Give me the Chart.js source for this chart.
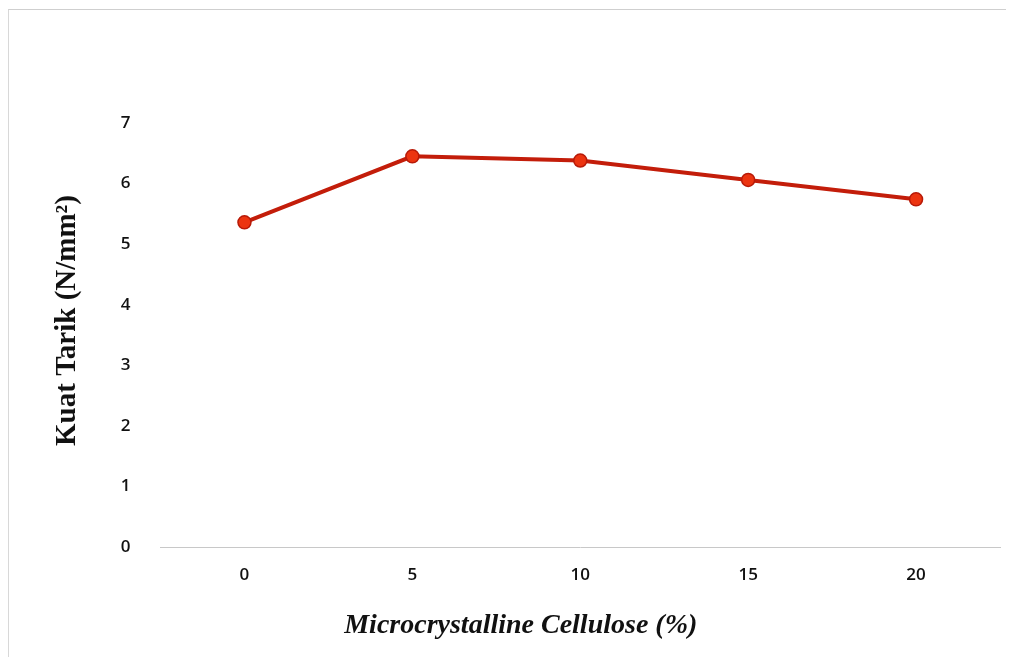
<!DOCTYPE html>
<html>
<head>
<meta charset="utf-8">
<script src="https://cdn.jsdelivr.net/npm/chart.js@4"></script>
<style>
  html, body { margin: 0; padding: 0; background: #fff; }
  #wrap { position: relative; width: 1010px; height: 657px; }
  #frame { position: absolute; left: 8px; top: 9px; right: 4px; bottom: -10px; border-left: 1px solid #d8d8d8; border-top: 1px solid #cfcfcf; }
</style>
</head>
<body>
<div id="wrap">
  <div id="frame"></div>
  <canvas id="chart" width="1010" height="657"></canvas>
</div>
<script>
// data
const mccPercent = ['0', '5', '10', '15', '20'];
const kuatTarik = [5.36, 6.45, 6.38, 6.06, 5.74];
const yTicks = [0, 1, 2, 3, 4, 5, 6, 7];

const ctx = document.getElementById('chart').getContext('2d');

new Chart(ctx, {
  type: 'line',
  data: {
    labels: mccPercent,
    datasets: [{
      label: 'Kuat Tarik',
      data: kuatTarik,
      borderColor: '#c31d0a',
      borderWidth: 4,
      pointRadius: 6.5,
      pointBackgroundColor: '#ec3410',
      pointBorderColor: '#b81a08',
      pointBorderWidth: 1.5,
      tension: 0
    }]
  },
  options: {
    responsive: false,
    animation: false,
    layout: {
      padding: { top: 123, right: 10, bottom: 10, left: 46 }
    },
    plugins: {
      legend: { display: false },
      tooltip: { enabled: false }
    },
    scales: {
      x: {
        offset: true,
        grid: { display: false },
        border: { display: true, color: '#c8c8c8', width: 1, dash: [2, 2] },
        ticks: {
          color: '#111',
          padding: 10,
          font: { family: 'Open Sans', size: 17, weight: '600' }
        },
        title: {
          display: true,
          // trailing spaces shift the centred title left, as in the reference
          text: 'Microcrystalline Cellulose (%)' + ' '.repeat(17),
          color: '#111',
          padding: { top: 14 },
          font: { family: 'Liberation Serif', size: 28, weight: 'bold', style: 'italic' }
        }
      },
      y: {
        min: 0,
        max: 7,
        afterBuildTicks: axis => { axis.ticks = yTicks.map(v => ({ value: v })); },
        grid: { display: false },
        border: { display: false },
        ticks: {
          color: '#111',
          padding: 22,
          font: { family: 'Open Sans', size: 17, weight: '600' }
        },
        title: {
          display: true,
          // leading spaces nudge the rotated title upward
          text: ' '.repeat(4) + 'Kuat Tarik (N/mm²)',
          color: '#111',
          padding: { bottom: 14 },
          font: { family: 'Liberation Serif', size: 29, weight: 'bold' }
        }
      }
    }
  }
});
</script>
</body>
</html>
